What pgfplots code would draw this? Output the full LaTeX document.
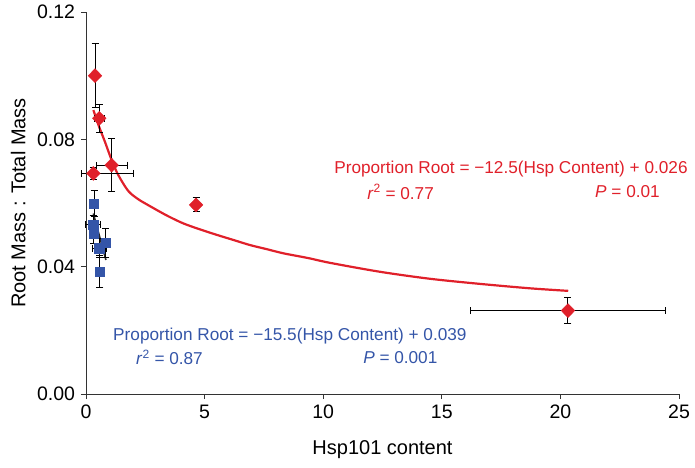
\documentclass[border=0pt]{standalone}
\usepackage{pgfplots}
\pgfplotsset{compat=1.18}
\usepackage{fontspec}
\setmainfont{Liberation Sans}
\definecolor{myred}{HTML}{E0202A}
\definecolor{myblue}{HTML}{3455A8}
\definecolor{axgray}{HTML}{333333}
\begin{document}
\fontsize{17.2}{20}\selectfont
\begin{tikzpicture}
\path[use as bounding box] (-86pt,-73pt) rectangle (609pt,394pt);
\begin{axis}[
  at={(0pt,0pt)}, anchor=origin,
  scale only axis, width=593pt, height=382pt,
  xmin=0, xmax=25, ymin=0, ymax=0.12,
  axis lines*=left,
  axis line style={axgray, line width=0.9pt},
  xtick={0,5,10,15,20,25},
  ytick={0,0.04,0.08,0.12},
  tick style={axgray, line width=0.9pt},
  tick align=outside, major tick length=5pt,
  /pgf/number format/assume math mode=true,
  yticklabel style={/pgf/number format/fixed, /pgf/number format/fixed zerofill, /pgf/number format/precision=2},
  ticklabel style={font=\fontsize{19.5}{23}\selectfont},
  label style={font=\fontsize{20}{24}\selectfont},
  xlabel={Hsp101 content},
  ylabel={Root Mass : Total Mass},
  xlabel style={yshift=-10pt},
  ylabel style={yshift=0pt},
  scaled y ticks=false,
  clip=false,
]
% red fitted curve
\addplot[myred, line width=2.2pt, no marks, smooth] coordinates {
(0.31,0.0892) (0.55,0.0840) (0.80,0.0792) (1.08,0.0735) (1.36,0.0688) (1.78,0.0638)
(2.20,0.0612) (2.70,0.0590) (3.40,0.0561) (4.10,0.0536) (4.81,0.0517) (5.51,0.0500)
(6.21,0.0484) (6.91,0.0468) (7.62,0.0455) (8.32,0.0442) (9.37,0.0427)
(10.29,0.0412) (12.39,0.0384) (14.5,0.0362) (16.6,0.0346) (18.72,0.0332) (20.33,0.0324)
};
% blue fit line
\addplot[black!85, line width=1.6pt, no marks] coordinates {(0.31,0.0567) (0.84,0.0421)};
% blue points
\addplot[only marks, mark=square*, mark size=4.6pt, color=myblue,
  error bars/.cd, x dir=both, x explicit, y dir=both, y explicit,
  error bar style={black, line width=1pt},
  error mark options={rotate=90, mark size=3.5pt, black, line width=1pt}]
coordinates {
(0.34,0.0599) +- (0,0.004)
(0.30,0.0532) +- (0.3,0.003)
(0.32,0.0503) +- (0,0.003)
(0.56,0.0458) +- (0.3,0.003)
(0.84,0.0475) +- (0,0.0045)
(0.59,0.0384) +- (0,0.005)
};
% red points
\addplot[only marks, mark=diamond*, mark size=7pt, color=myred, mark options={xscale=1.3},
  error bars/.cd, x dir=both, x explicit, y dir=both, y explicit,
  error bar style={black, line width=1pt},
  error mark options={rotate=90, mark size=3.5pt, black, line width=1pt}]
coordinates {
(0.38,0.1000) +- (0,0.010)
(0.56,0.0866) +- (0.22,0.0045)
(1.08,0.0719) +- (0.65,0.0083)
(0.31,0.0693) += (1.69,0.002) -= (0.5,0.002)
(4.64,0.0594) +- (0,0.0022)
(20.32,0.0262) +- (4.1,0.004)
};
\node[anchor=west, text=myred, inner sep=0pt] at (axis cs:10.46,0.0707) {Proportion Root = −12.5(Hsp Content) + 0.026};
\node[anchor=west, text=myred, inner sep=0pt] at (axis cs:11.85,0.0635) {\textit{r}\textsuperscript{2} = 0.77};
\node[anchor=west, text=myred, inner sep=0pt] at (axis cs:21.46,0.0635) {\textit{P} = 0.01};
\node[anchor=west, text=myblue, inner sep=0pt] at (axis cs:1.14,0.0182) {Proportion Root = −15.5(Hsp Content) + 0.039};
\node[anchor=west, text=myblue, inner sep=0pt] at (axis cs:2.11,0.0116) {\textit{r}\textsuperscript{2} = 0.87};
\node[anchor=west, text=myblue, inner sep=0pt] at (axis cs:11.68,0.0116) {\textit{P} = 0.001};
\end{axis}
\end{tikzpicture}
\end{document}
